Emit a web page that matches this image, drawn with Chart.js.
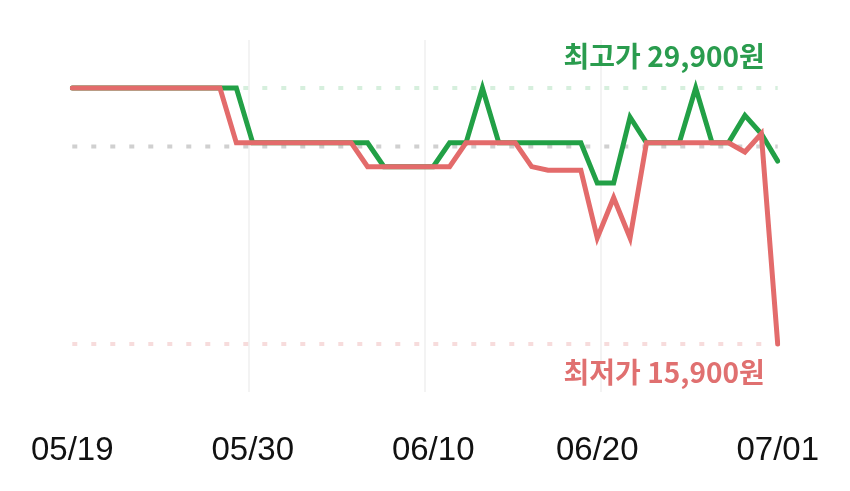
<!DOCTYPE html>
<html lang="ko">
<head>
<meta charset="UTF-8">
<title>가격 변동</title>
<style>
  html, body { margin: 0; padding: 0; background: #fff; }
  #wrap { width: 850px; height: 491px; }
</style>
</head>
<body>
<div id="wrap"><canvas id="priceChart"></canvas></div>
<script src="https://cdn.jsdelivr.net/npm/chart.js@4.4.0/dist/chart.umd.min.js"></script>
<script>
// 날짜 (05/19 ~ 07/01)
const dates = [
  '05/19','05/20','05/21','05/22','05/23','05/24','05/25','05/26','05/27','05/28','05/29','05/30','05/31',
  '06/01','06/02','06/03','06/04','06/05','06/06','06/07','06/08','06/09','06/10','06/11','06/12','06/13',
  '06/14','06/15','06/16','06/17','06/18','06/19','06/20','06/21','06/22','06/23','06/24','06/25','06/26',
  '06/27','06/28','06/29','06/30','07/01'
];
// 일별 최고가 (초록)
const highPrices = [
  29900,29900,29900,29900,29900,29900,29900,29900,29900,29900,29900,
  26900,26900,26900,26900,26900,26900,26900,26900,
  25600,25600,25600,25600,
  26900,26900,29900,
  26900,26900,26900,26900,26900,26900,
  24700,24700,28300,
  26900,26900,26900,29900,26900,26900,
  28400,27400,25900
];
// 일별 최저가 (빨강)
const lowPrices = [
  29900,29900,29900,29900,29900,29900,29900,29900,29900,29900,
  26900,26900,26900,26900,26900,26900,26900,26900,
  25600,25600,25600,25600,25600,25600,
  26900,26900,26900,26900,
  25600,25400,25400,25400,
  21700,23900,21700,
  26900,26900,26900,26900,26900,26900,
  26400,27400,15900
];
const tickDates = ['05/19', '05/30', '06/10', '06/20', '07/01'];
const maxPrice = 29900;
const minPrice = 15900;
const avgPrice = 26700;
const maxLabel = '최고가 29,900원';
const minLabel = '최저가 15,900원';

const green = '#22a046';
const red = '#e36b6b';
const last = dates.length - 1;

// 최고가/최저가 텍스트
const priceLabels = {
  id: 'priceLabels',
  afterDatasetsDraw(chart) {
    const { ctx, chartArea, scales: { y } } = chart;
    ctx.save();
    ctx.font = 'bold 28px "Noto Sans CJK KR", sans-serif';
    ctx.textAlign = 'right';
    ctx.textBaseline = 'middle';
    ctx.fillStyle = '#2a9c4e';
    ctx.fillText(maxLabel, chartArea.right - 13, y.getPixelForValue(maxPrice) - 32);
    ctx.fillStyle = '#e07070';
    ctx.fillText(minLabel, chartArea.right - 13, y.getPixelForValue(minPrice) + 28);
    ctx.restore();
  }
};

function refLine(value, color) {
  return {
    data: [{ x: dates[0], y: value }, { x: dates[last], y: value }],
    borderColor: color,
    borderWidth: 4,
    borderDash: [5, 14],
    borderCapStyle: 'butt',
    pointRadius: 0
  };
}

new Chart(document.getElementById('priceChart'), {
  type: 'line',
  data: {
    labels: dates,
    datasets: [{
      data: lowPrices,
      borderColor: red,
      borderWidth: 5,
      borderCapStyle: 'round',
      pointRadius: 0,
      tension: 0
    }, {
      data: highPrices,
      borderColor: green,
      borderWidth: 5,
      borderCapStyle: 'round',
      pointRadius: 0,
      tension: 0
    },
      refLine(maxPrice, '#d6efdd'),
      refLine(avgPrice, '#d0d0d0'),
      refLine(minPrice, '#f7dcdc')
    ]
  },
  options: {
    responsive: true,
    maintainAspectRatio: false,
    animation: false,
    layout: { padding: { left: 70, right: 68, top: 40, bottom: 0 } },
    plugins: { legend: { display: false }, tooltip: { enabled: false } },
    scales: {
      x: {
        type: 'category',
        grid: { display: false },
        border: { display: false },
        ticks: {
          autoSkip: false,
          maxRotation: 0,
          padding: 31,
          color: '#111',
          font: { family: '"Liberation Sans", Arial, sans-serif', size: 33 },
          callback(v) { return this.getLabelForValue(v); }
        },
        afterBuildTicks: s => { s.ticks = tickDates.map(d => ({ value: dates.indexOf(d) })); },
        afterFit: s => { s.height = 99; }
      },
      xGrid: {
        type: 'linear',
        axis: 'x',
        position: 'top',
        min: 0,
        max: last,
        ticks: { display: false },
        grid: { color: '#f3f3f3', lineWidth: 2, drawTicks: false },
        border: { display: false },
        afterBuildTicks: s => { s.ticks = [1, 2, 3].map(q => ({ value: q * last / 4 })); },
        afterFit: s => { s.height = 0; }
      },
      y: {
        display: false,
        min: 13275,
        max: 32525
      }
    }
  },
  plugins: [priceLabels]
});
</script>
</body>
</html>
